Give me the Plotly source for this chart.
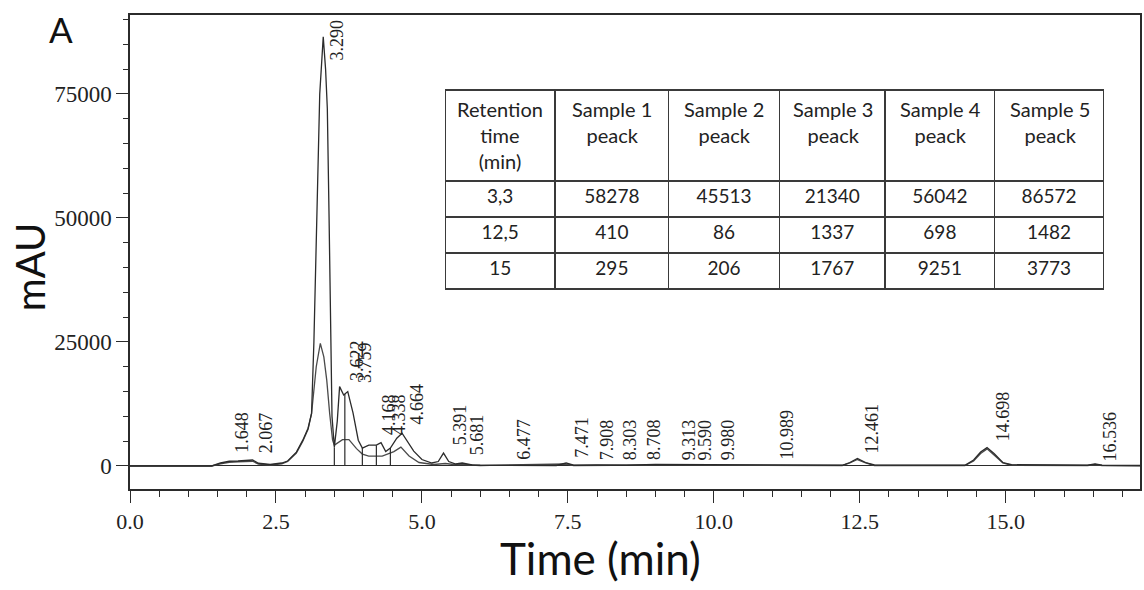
import numpy as np
import plotly.graph_objects as go

# ---------------- data ----------------
# tall chromatogram trace
t_a = [0.0, 1.40, 1.55, 1.70, 1.85, 2.00, 2.10, 2.20, 2.40, 2.60, 2.70, 2.85, 2.96, 3.05, 3.11,
       3.15, 3.17, 3.20, 3.25, 3.28, 3.31, 3.35, 3.38, 3.41, 3.43, 3.46, 3.50,
       3.55, 3.59, 3.66, 3.73, 3.82, 3.91, 3.98, 4.09, 4.22, 4.30, 4.38, 4.46, 4.57, 4.66,
       4.74, 4.86, 5.00, 5.17, 5.28, 5.37, 5.46, 5.58, 5.69, 5.86, 6.00, 6.50, 7.30, 7.47,
       7.60, 8.00, 8.50, 9.00, 9.50, 10.00, 11.00, 12.20, 12.33, 12.46, 12.60, 12.75,
       14.30, 14.45, 14.57, 14.68, 14.80, 14.95, 15.10, 16.40, 16.53, 16.65, 17.30]
mau_a = [0, 0, 600, 950, 1000, 1050, 1200, 550, 300, 600, 1000, 2800, 5200, 7600, 10600,
         25000, 37500, 50000, 75000, 82000, 86500, 80000, 72000, 50000, 30000, 10000, 3800,
         9000, 16000, 14300, 15000, 10700, 5200, 3600, 4200, 4200, 4700, 2900, 3600, 5600, 6600,
         5200, 3000, 1300, 600, 900, 2600, 900, 400, 600, 200, 150, 100, 100, 600,
         150, 200, 150, 300, 300, 150, 200, 150, 700, 1500, 700, 200,
         150, 1200, 2800, 3700, 2500, 700, 250, 150, 400, 150, 100]

# lower chromatogram trace
t_b = [0.0, 1.40, 1.55, 1.70, 1.85, 2.00, 2.10, 2.20, 2.40, 2.60, 2.70, 2.85, 2.96, 3.05, 3.11,
       3.19, 3.26, 3.32, 3.37, 3.42, 3.47, 3.50, 3.56, 3.64, 3.75, 3.88, 3.98, 4.09, 4.32,
       4.52, 4.64, 4.78, 4.95, 5.20, 5.40, 5.55, 5.70, 6.00, 7.47, 7.60, 9.00, 9.50, 12.20,
       12.33, 12.46, 12.60, 12.75, 14.30, 14.45, 14.57, 14.68, 14.80, 14.95, 15.10, 16.40,
       16.53, 16.65, 17.30]
mau_b = [0, 0, 450, 750, 850, 850, 950, 400, 200, 450, 900, 2600, 5000, 7400, 10600,
         20000, 24700, 22000, 17300, 10600, 5200, 4200, 4700, 5300, 5300, 3500, 2400, 2000, 2000,
         2900, 3800, 2000, 700, 300, 500, 300, 300, 100, 400, 100, 200, 200, 100,
         600, 1300, 600, 100, 100, 1000, 2500, 3450, 2200, 600, 150, 100,
         300, 100, 50]

# integration drop lines (retention times)
drop_times = [3.50, 3.68, 3.98, 4.22, 4.46]

# peak labels
peak_labels = ["1.648", "2.067", "3.290", "3.622", "3.759", "4.168", "4.338", "4.664",
               "5.391", "5.681", "6.477", "7.471", "7.908", "8.303", "8.708", "9.313",
               "9.590", "9.980", "10.989", "12.461", "14.698", "16.536"]
peak_times = [float(s) for s in peak_labels]

# table
table_header = ["Retention<br>time<br>(min)", "Sample 1<br>peack", "Sample 2<br>peack",
                "Sample 3<br>peack", "Sample 4<br>peack", "Sample 5<br>peack"]
retention = ["3,3", "12,5", "15"]
sample1 = [58278, 410, 295]
sample2 = [45513, 86, 206]
sample3 = [21340, 1337, 1767]
sample4 = [56042, 698, 9251]
sample5 = [86572, 1482, 3773]

x_tick_vals = [0.0, 2.5, 5.0, 7.5, 10.0, 12.5, 15.0]
y_tick_vals = [0, 25000, 50000, 75000]

# ---------------- layout constants ----------------
W, H = 1144, 590
L, R, T, B = 130, 2, 15, 101
PW, PH = W - L - R, H - T - B
X_RANGE = [0, 17.3]
Y_RANGE = [-4640, 90900]
# bottom of each rotated peak label (mAU), same order as peak_labels
label_y = [2200, 2200, 81250, 16700, 16300, 5800, 5800, 7900, 3800, 1800, 800, 1200,
           800, 800, 800, 800, 800, 800, 800, 2200, 4600, 600]
TAB_LEFT, TAB_TOP, TAB_BOTTOM = 446, 90, 290
COL_W = [110, 114, 111, 106, 110, 109]
HEAD_H, ROW_H = 91, 36


def px(xp):
    return (xp - L) / PW


def py(yp):
    return (H - B - yp) / PH


LINE = "#2b2b2b"
SERIF = "Liberation Serif"
SANS = "Lato"

fig = go.Figure()

fig.add_trace(go.Scatter(x=t_b, y=mau_b, mode="lines",
                         line=dict(color="#4a4a4a", width=1.3), hoverinfo="skip"))
fig.add_trace(go.Scatter(x=t_a, y=mau_a, mode="lines",
                         line=dict(color=LINE, width=1.3), hoverinfo="skip"))

drop_h = np.interp(drop_times, t_a, mau_a)
dx, dy = [], []
for t, h in zip(drop_times, drop_h):
    dx += [t, t, None]
    dy += [0, h, None]
fig.add_trace(go.Scatter(x=dx, y=dy, mode="lines",
                         line=dict(color=LINE, width=1.2), hoverinfo="skip"))

tab_right = TAB_LEFT + sum(COL_W)
fig.add_trace(go.Table(
    domain=dict(x=[px(TAB_LEFT), px(tab_right)], y=[py(TAB_BOTTOM), py(TAB_TOP)]),
    columnwidth=COL_W,
    header=dict(values=[""] * len(table_header), height=HEAD_H, align="center",
                fill_color="white", line=dict(color="#3a3a3a", width=1.2),
                font=dict(family=SANS, size=19, color="#222")),
    cells=dict(values=[retention, sample1, sample2, sample3, sample4, sample5],
               height=ROW_H, align="center", fill_color="white",
               line=dict(color="#3a3a3a", width=1.2),
               font=dict(family=SANS, size=19, color="#222")),
))

annotations = []
# table header text, centred line by line
edges = np.concatenate([[0], np.cumsum(COL_W)]) + TAB_LEFT
for i, txt in enumerate(table_header):
    cx = (edges[i] + edges[i + 1]) / 2
    annotations.append(dict(x=px(cx), y=py(TAB_TOP + 5), xref="paper", yref="paper",
                            text=txt, showarrow=False, align="center",
                            xanchor="center", yanchor="top",
                            font=dict(family=SANS, size=20, color="#222")))

for lab, t, yv in zip(peak_labels, peak_times, label_y):
    annotations.append(dict(x=t, y=yv, xref="x", yref="y", text=lab, showarrow=False,
                            textangle=-90, xanchor="center", yanchor="bottom", xshift=15,
                            font=dict(family=SERIF, size=18, color="#222")))

annotations += [
    dict(x=px(61), y=py(29), xref="paper", yref="paper", text="A", showarrow=False,
         xanchor="center", yanchor="middle", font=dict(family=SANS, size=35, color="#111")),
    dict(x=px(30), y=py(267), xref="paper", yref="paper", text="mAU", showarrow=False,
         textangle=-90, xanchor="center", yanchor="middle",
         font=dict(family=SANS, size=40, color="#111")),
    dict(x=px(601), y=py(558), xref="paper", yref="paper", text="Time (min)", showarrow=False,
         xanchor="center", yanchor="middle", font=dict(family=SANS, size=44, color="#111")),
]

fig.update_layout(
    width=W, height=H,
    margin=dict(l=L, r=R, t=T, b=B, pad=0),
    paper_bgcolor="white", plot_bgcolor="white",
    showlegend=False,
    annotations=annotations,
    xaxis=dict(range=X_RANGE, tickvals=x_tick_vals,
               ticktext=[f"{v:.1f}" for v in x_tick_vals],
               ticks="outside", ticklen=12, tickwidth=1.2, tickcolor=LINE,
               minor=dict(dtick=0.5, tick0=0, ticks="outside", ticklen=6, tickwidth=1.2,
                          tickcolor=LINE, showgrid=False),
               showline=True, linecolor=LINE, linewidth=1.5, mirror=True,
               showgrid=False, zeroline=False,
               tickfont=dict(family=SERIF, size=22, color="#222")),
    yaxis=dict(range=Y_RANGE, tickvals=y_tick_vals, ticktext=[str(v) for v in y_tick_vals],
               ticks="outside", ticklen=12, tickwidth=1.2, tickcolor=LINE,
               minor=dict(dtick=5000, tick0=0, ticks="outside", ticklen=5, tickwidth=1.2,
                          tickcolor=LINE, showgrid=False),
               showline=True, linecolor=LINE, linewidth=1.5, mirror=True,
               showgrid=False, zeroline=True, zerolinecolor=LINE, zerolinewidth=1.3,
               tickfont=dict(family=SERIF, size=23, color="#222")),
)

fig.write_html("out.html",
               config={"displayModeBar": False},
               post_script="document.body.style.margin='0px';"
                           "document.body.style.overflow='hidden';")
